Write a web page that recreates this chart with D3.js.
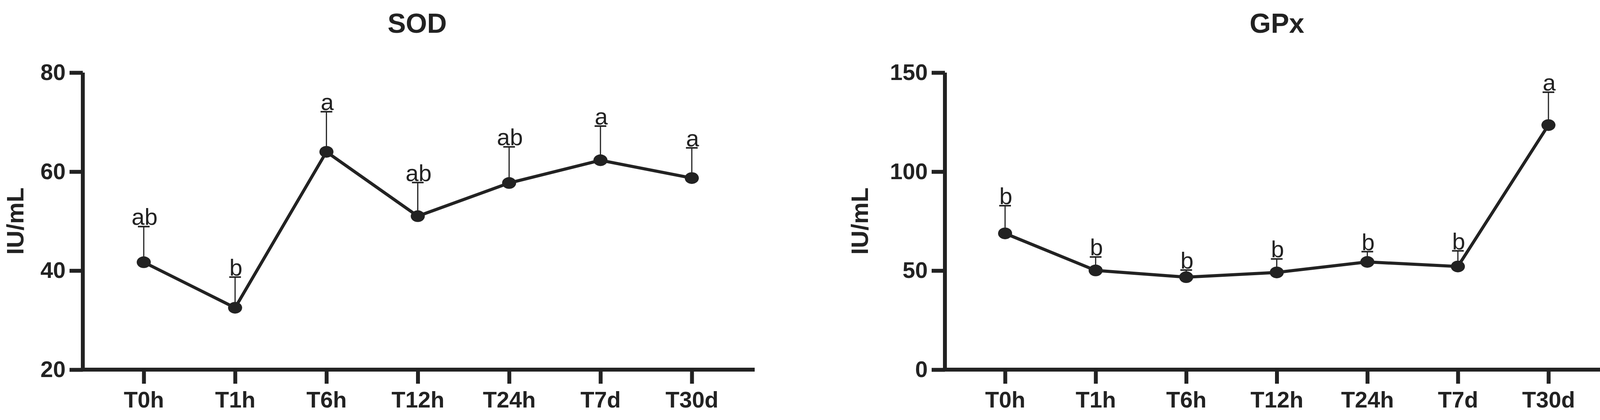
<!DOCTYPE html><html><head><meta charset="utf-8">
<script src="https://cdn.jsdelivr.net/npm/d3@7"></script>
<style>body{margin:0;background:#fff}text{font-family:"Liberation Sans",Arial,sans-serif;fill:#222}</style>
</head><body><svg id="c" width="4146" height="1076"></svg>
<script>
const categories=["T0h","T1h","T6h","T12h","T24h","T7d","T30d"];
const sodMean=[41.7,32.5,64.0,51.0,57.7,62.3,58.7];
const sodErr=[48.9,38.7,72.1,57.8,65.0,69.2,64.8];
const sodLetters=["ab","b","a","ab","ab","a","a"];
const gpxMean=[68.8,50.1,46.7,49.1,54.4,52.1,123.5];
const gpxErr=[82.8,56.9,50.3,55.9,59.6,60.0,140.1];
const gpxLetters=["b","b","b","b","b","b","a"];
const sodTicks=[20,40,60,80];
const gpxTicks=[0,50,100,150];
const svg=d3.select("#c");
const col="#222";
function panel(o){
  const g=svg.append("g");
  const x=d3.scalePoint().domain(categories).range([o.x0,o.x1]);
  const y=d3.scaleLinear().domain(o.dom).range([947,186]);
  g.append("text").attr("x",o.tx).attr("y",84).attr("text-anchor","middle").attr("font-size",70).attr("font-weight","bold").text(o.title);
  const ya=g.append("g").attr("transform",`translate(${o.ax},0)`).call(d3.axisLeft(y).tickValues(o.ticks).tickSize(34).tickPadding(10));
  const xa=g.append("g").attr("transform",`translate(0,${y(o.dom[0])})`).call(d3.axisBottom(x).tickSize(36).tickPadding(20));
  [ya,xa].forEach(a=>{a.select(".domain").attr("stroke",col).attr("stroke-width",10);
    a.selectAll(".tick line").attr("stroke",col).attr("stroke-width",10);
    a.selectAll("text").attr("font-size",58).attr("font-weight","bold").attr("fill",col).style("font-family","Liberation Sans, Arial");});
  xa.select(".domain").attr("d",`M${o.ax-5},0H${o.xend}`);
  ya.select(".domain").attr("d",`M0,${y(o.dom[0])+5}V${y(o.dom[1])}`);
  g.append("text").attr("transform",`translate(${o.lx},${(186+947)/2}) rotate(-90)`).attr("text-anchor","middle").attr("font-size",62).attr("font-weight","bold").text("IU/mL");
  categories.forEach((c,i)=>{
    g.append("line").attr("x1",x(c)).attr("x2",x(c)).attr("y1",y(o.mean[i])).attr("y2",y(o.err[i])).attr("stroke",col).attr("stroke-width",3);
    g.append("line").attr("x1",x(c)-15).attr("x2",x(c)+15).attr("y1",y(o.err[i])).attr("y2",y(o.err[i])).attr("stroke",col).attr("stroke-width",4);
    g.append("text").attr("x",x(c)+2).attr("y",y(o.err[i])-4).attr("text-anchor","middle").attr("font-size",60).text(o.letters[i]);
  });
  g.append("path").datum(o.mean).attr("fill","none").attr("stroke",col).attr("stroke-width",8)
   .attr("d",d3.line().x((d,i)=>x(categories[i])).y(d=>y(d)));
  g.selectAll("ellipse").data(o.mean).join("ellipse").attr("cx",(d,i)=>x(categories[i])).attr("cy",d=>y(d)).attr("rx",18).attr("ry",15).attr("fill",col);
}
panel({x0:368,x1:1771,ax:212,xend:1932,dom:[20,80],ticks:sodTicks,mean:sodMean,err:sodErr,letters:sodLetters,title:"SOD",tx:1068,lx:60});
panel({x0:2573,x1:3964,ax:2419,xend:4146,dom:[0,150],ticks:gpxTicks,mean:gpxMean,err:gpxErr,letters:gpxLetters,title:"GPx",tx:3269,lx:2222});
</script></body></html>
